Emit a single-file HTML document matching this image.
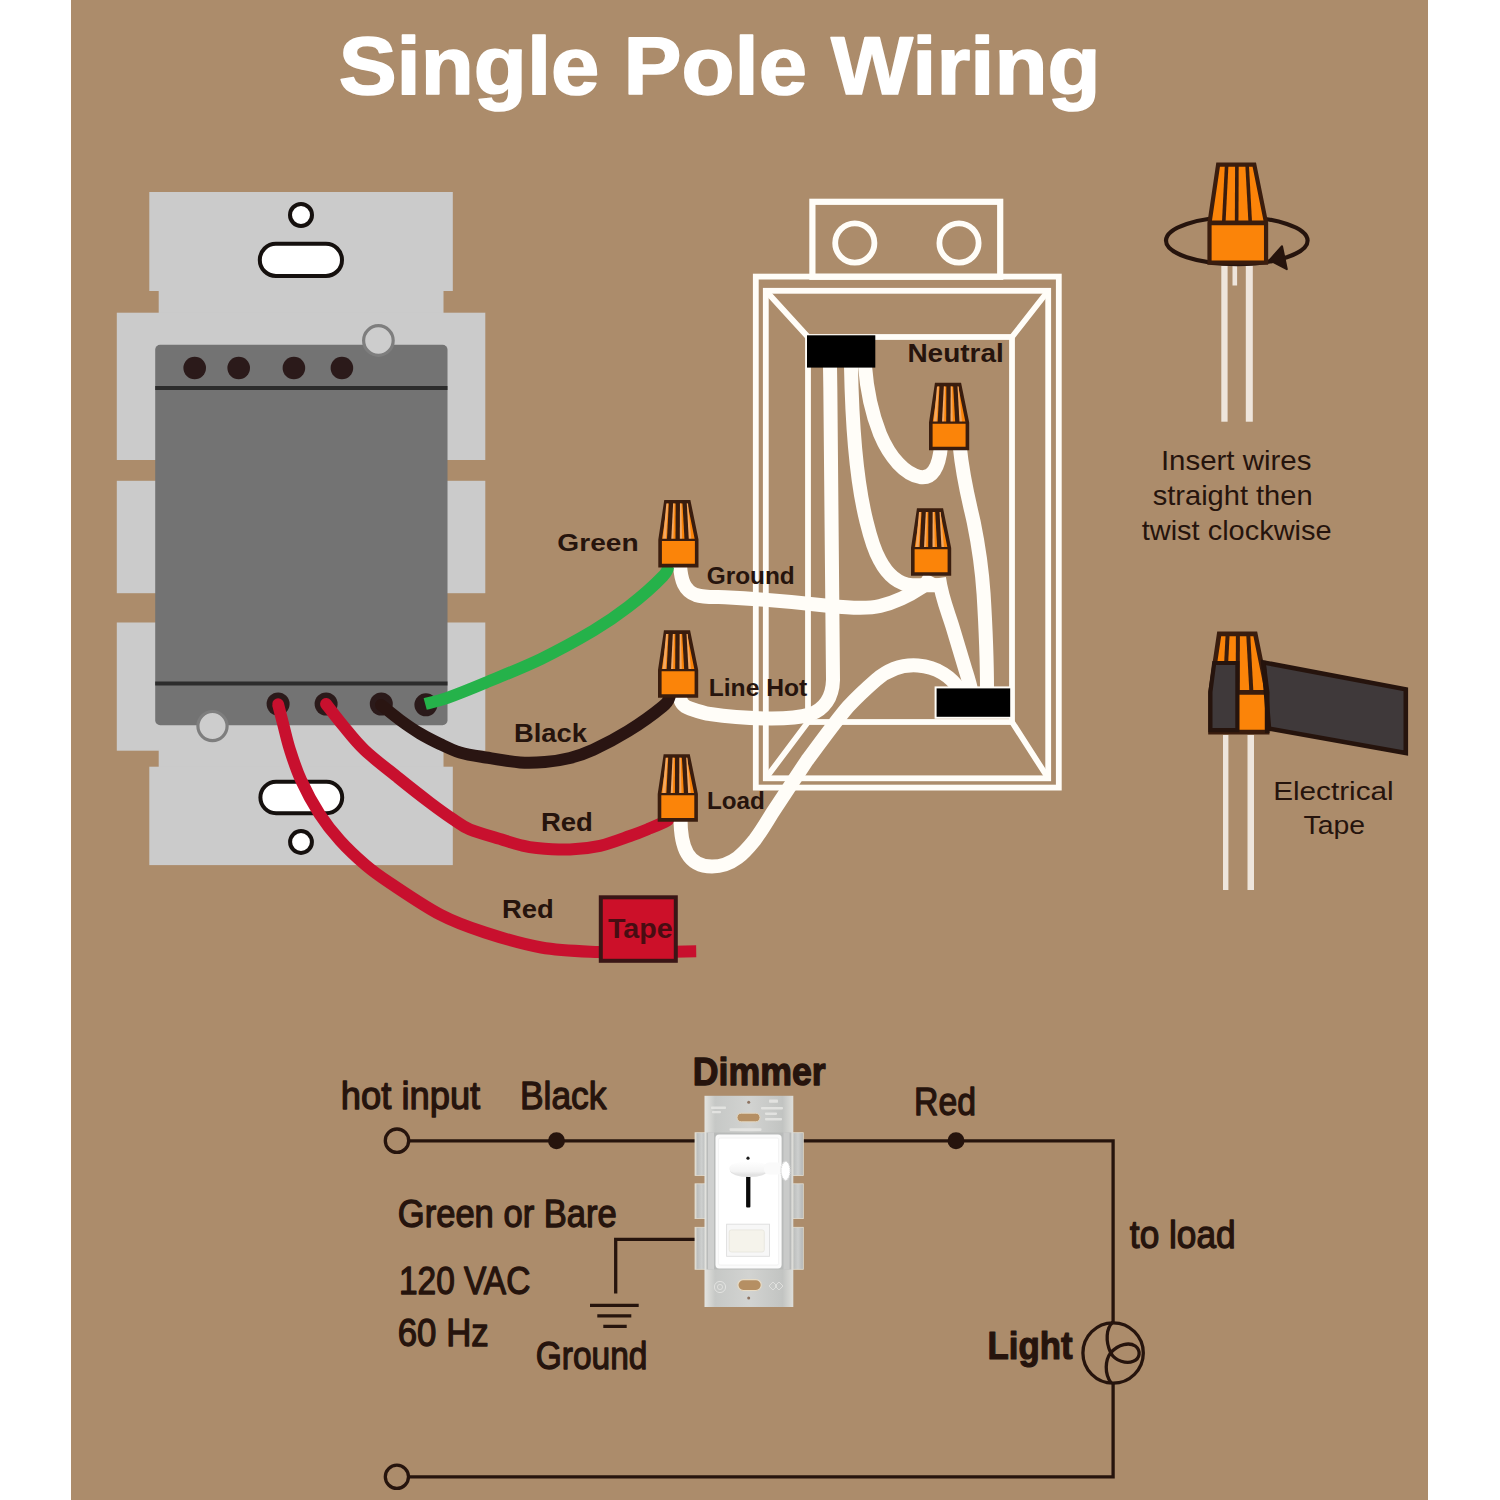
<!DOCTYPE html>
<html lang="en">
<head>
<meta charset="utf-8">
<title>Single Pole Wiring</title>
<style>
html,body{margin:0;padding:0;background:#fff;}
body{width:1500px;height:1500px;overflow:hidden;}
svg{display:block;}
svg text{font-family:"Liberation Sans",sans-serif;}
</style>
</head>
<body>
<svg width="1500" height="1500" viewBox="0 0 1500 1500">
<rect x="71" y="0" width="1357" height="1500" fill="#AC8C6B"/>
<g fill="#CBCBCB">
<rect x="149.3" y="192" width="303.5" height="99"/>
<rect x="158.7" y="290" width="284.8" height="24"/>
<rect x="116.8" y="312.7" width="368.5" height="147.3"/>
<rect x="116.8" y="480.8" width="368.5" height="112.4"/>
<rect x="116.8" y="622.5" width="368.5" height="128.2"/>
<rect x="158.7" y="749" width="284.8" height="19"/>
<rect x="149.3" y="766.7" width="303.5" height="98.4"/>
</g>
<rect x="155.2" y="344.8" width="292.3" height="380.5" rx="5" fill="#737373"/>
<path d="M155.2,388 H447.5 M155.2,683.5 H447.5" stroke="#2c2c2c" stroke-width="4.2"/>
<circle cx="194.7" cy="368" r="11.3" fill="#2B1A1A"/>
<circle cx="238.7" cy="368" r="11.3" fill="#2B1A1A"/>
<circle cx="293.9" cy="368" r="11.3" fill="#2B1A1A"/>
<circle cx="341.9" cy="368" r="11.3" fill="#2B1A1A"/>
<circle cx="278.1" cy="704" r="11.5" fill="#2B1A1A"/>
<circle cx="326.1" cy="704" r="11.5" fill="#2B1A1A"/>
<circle cx="381.3" cy="704" r="11.5" fill="#2B1A1A"/>
<circle cx="425.9" cy="704.8" r="11.5" fill="#2B1A1A"/>
<circle cx="378.4" cy="340.5" r="14.8" fill="#CDCDCD" stroke="#7E7E7E" stroke-width="3.2"/>
<circle cx="212.5" cy="726.1" r="14.6" fill="#CDCDCD" stroke="#7E7E7E" stroke-width="3.2"/>
<g fill="#fff" stroke="#15100E" stroke-width="4">
<circle cx="301" cy="215" r="11"/>
<rect x="259.8" y="243.8" width="82.2" height="32.2" rx="16.1"/>
<rect x="260.4" y="781.8" width="81.8" height="31.4" rx="15.7"/>
<circle cx="301" cy="842" r="10.9"/>
</g>
<g fill="none" stroke="#FFFDF8" stroke-width="5.8">
<rect x="812.4" y="201.8" width="187.8" height="75" stroke-width="6.2"/>
<circle cx="854.8" cy="243" r="19.6"/><circle cx="959" cy="243" r="19.6"/>
<rect x="755.8" y="276.6" width="303" height="511"/>
<rect x="765.8" y="290.8" width="282.4" height="487.5"/>
<rect x="808" y="337" width="204" height="385"/>
<path d="M765.8,290.8 L808,337 M1048.2,290.8 L1012,337 M765.8,778.3 L808,722 M1048.2,778.3 L1012,722"/>
</g>
<g fill="none" stroke="#FFFDF8" stroke-width="14" stroke-linecap="butt" stroke-linejoin="round">
<path d="M680,565 C681,580 684,590.5 696,595 C705,598 715,596.8 725,597.2 C760,599 800,602.5 830,606 C850,608 870,608.5 880,606 C895,602.5 910,595 922,587 C926,584 929,580 931,576"/>
<path d="M851,366 C852,420 856,480 866.6,522 C871,540 874,550 879.7,560 C887,574 898,584 912,585.3 L943,585.3"/>
<path d="M865,366 C867,392 872,414 880,434 C890,458 905,474 920,477 C932,479 939,468 941,446"/>
<path d="M679.5,695 C680,703 684,706.5 690,708.5 C700,712 705,713.5 710,714 C730,717 750,718.3 770,718.5 C790,718.6 800,717.5 810,714.5 C824,709.5 832.5,698 833,680 C833.5,640 832,500 830,366"/>
<path d="M680.5,818 C680.5,848 688,866.5 712,866.5 C733,866.5 745,852 754.7,840 C762,830 768,820 772,813.3 L807.3,760 C820,743 835,722 848,706.7 C860,694 868,687 876,680 C890,668 905,664.5 918,665.5 C938,667 952,678 960,690"/>
<path d="M959.7,446 C963,480 970,505 973.7,522 C979,548 982,570 983.6,594 C985.5,625 987,660 987,690"/>
<path d="M939,578 C941.5,597 948,612 952.3,626 C958,645 962,658 965.5,670 C968,678 970,684 971,690"/>
</g>
<rect x="807" y="335.3" width="68.3" height="32.3" fill="#000"/>
<rect x="935.6" y="687.4" width="75.6" height="30.4" fill="#000" stroke="#FFFDF8" stroke-width="2"/>
<g fill="none" stroke-width="12" stroke-linecap="butt" stroke-linejoin="round">
<path d="M425.2,704.0 C428.9,703.0 437.3,701.3 447.4,697.8 C457.4,694.2 469.9,689.2 485.5,682.7 C501.1,676.2 523.3,667.5 541.3,658.8 C559.3,650.1 578.8,639.3 593.3,630.7 C607.8,622.1 616.4,616.1 628.0,607.1 C639.6,598.1 656.0,583.5 662.7,576.5 C669.5,569.5 667.5,566.9 668.5,565.0" stroke="#25B24A"/>
<path d="M381.0,705.0 C384.2,707.5 393.5,715.2 400.0,720.0 C406.5,724.8 413.3,729.5 420.0,733.5 C426.7,737.5 433.3,740.8 440.0,744.0 C446.7,747.2 452.4,750.2 460.0,752.5 C467.6,754.8 475.9,755.9 485.9,757.5 C495.9,759.1 510.1,761.6 520.0,762.4 C529.9,763.1 536.7,762.7 545.0,762.0 C553.3,761.3 562.0,760.0 570.0,758.0 C578.0,756.0 583.6,754.3 593.3,749.8 C603.0,745.3 616.4,738.4 628.0,731.2 C639.6,724.0 655.8,712.2 662.7,706.5 C669.6,700.8 668.5,698.6 669.6,697.0" stroke="#2A1512" stroke-linecap="round"/>
<path d="M326.1,704.0 C328.9,707.6 336.6,717.8 343.0,725.5 C349.4,733.2 355.2,741.2 364.5,750.0 C373.8,758.8 387.6,769.2 398.5,778.0 C409.4,786.8 421.0,795.9 430.0,802.7 C439.0,809.5 446.0,814.5 452.7,819.0 C459.4,823.5 461.6,826.0 470.0,829.5 C478.4,833.0 495.0,837.4 503.3,840.0 C511.6,842.6 514.4,843.7 520.0,845.0 C525.6,846.3 528.4,847.2 536.7,848.0 C545.0,848.8 559.5,849.9 570.0,849.5 C580.5,849.1 590.0,848.0 600.0,845.8 C610.0,843.5 621.7,838.9 630.0,836.0 C638.3,833.1 644.3,830.6 650.0,828.3 C655.7,826.0 661.0,823.7 664.0,822.3 C667.0,820.9 667.3,820.4 668.0,820.0" stroke="#C8102E" stroke-linecap="round"/>
<path d="M278.0,704.0 C278.9,707.6 281.5,717.8 283.5,725.5 C285.5,733.2 287.1,740.9 290.0,750.0 C292.9,759.1 296.1,769.3 301.0,780.0 C305.9,790.7 313.0,803.9 319.5,814.0 C326.0,824.1 332.3,832.0 340.0,840.5 C347.7,849.0 357.2,857.9 365.5,865.0 C373.8,872.1 377.6,874.8 390.0,883.0 C402.4,891.2 424.2,906.2 440.0,914.5 C455.8,922.8 468.1,927.0 485.0,932.5 C501.9,938.0 522.5,944.2 541.3,947.5 C560.1,950.8 579.9,951.2 598.0,952.0 C616.1,952.8 633.6,952.1 650.0,952.0 C666.4,951.9 688.5,951.4 696.2,951.3" stroke="#C8102E"/>
</g>
<circle cx="278.1" cy="704" r="5.8" fill="#C8102E"/>
<rect x="600.8" y="897.3" width="75" height="63.5" fill="#CC1029" stroke="#3A1616" stroke-width="4"/>
<g transform="translate(658.30,499.90) scale(1.0000)">
<path d="M7.50,1.80 L30.60,1.80 L38.40,39.9 L38.40,65.70 L1.80,65.70 L1.80,39.9 Z" fill="#FB8409" stroke="#3A1D0E" stroke-width="3.60" stroke-linejoin="miter"/>
<path d="M8.0,3.6 L9.9,3.6 L7.6,39.9 L4.7,39.9 Z" fill="#F3A862"/>
<path d="M14.299999999999999,3.6 L16.2,3.6 L15.1,39.9 L12.2,39.9 Z" fill="#F3A862"/>
<path d="M21.2,3.6 L23.1,3.6 L23.8,39.9 L20.9,39.9 Z" fill="#F3A862"/>
<path d="M27.8,3.6 L29.700000000000003,3.6 L33.1,39.9 L30.2,39.9 Z" fill="#F3A862"/>
<path d="M12.75,1.80 L10.8,39.9" stroke="#3A1D0E" stroke-width="4.30" fill="none"/>
<path d="M19.5,1.80 L19.35,39.9" stroke="#3A1D0E" stroke-width="4.30" fill="none"/>
<path d="M26.25,1.80 L28.35,39.9" stroke="#3A1D0E" stroke-width="4.30" fill="none"/>
<path d="M1.80,39.9 L38.40,39.9" stroke="#3A1D0E" stroke-width="2.16" fill="none"/>
</g>
<g transform="translate(658.00,630.30) scale(1.0000)">
<path d="M7.50,1.80 L30.60,1.80 L38.40,39.9 L38.40,65.70 L1.80,65.70 L1.80,39.9 Z" fill="#FB8409" stroke="#3A1D0E" stroke-width="3.60" stroke-linejoin="miter"/>
<path d="M8.0,3.6 L9.9,3.6 L7.6,39.9 L4.7,39.9 Z" fill="#F3A862"/>
<path d="M14.299999999999999,3.6 L16.2,3.6 L15.1,39.9 L12.2,39.9 Z" fill="#F3A862"/>
<path d="M21.2,3.6 L23.1,3.6 L23.8,39.9 L20.9,39.9 Z" fill="#F3A862"/>
<path d="M27.8,3.6 L29.700000000000003,3.6 L33.1,39.9 L30.2,39.9 Z" fill="#F3A862"/>
<path d="M12.75,1.80 L10.8,39.9" stroke="#3A1D0E" stroke-width="4.30" fill="none"/>
<path d="M19.5,1.80 L19.35,39.9" stroke="#3A1D0E" stroke-width="4.30" fill="none"/>
<path d="M26.25,1.80 L28.35,39.9" stroke="#3A1D0E" stroke-width="4.30" fill="none"/>
<path d="M1.80,39.9 L38.40,39.9" stroke="#3A1D0E" stroke-width="2.16" fill="none"/>
</g>
<g transform="translate(657.70,754.20) scale(1.0000)">
<path d="M7.50,1.80 L30.60,1.80 L38.40,39.9 L38.40,65.70 L1.80,65.70 L1.80,39.9 Z" fill="#FB8409" stroke="#3A1D0E" stroke-width="3.60" stroke-linejoin="miter"/>
<path d="M8.0,3.6 L9.9,3.6 L7.6,39.9 L4.7,39.9 Z" fill="#F3A862"/>
<path d="M14.299999999999999,3.6 L16.2,3.6 L15.1,39.9 L12.2,39.9 Z" fill="#F3A862"/>
<path d="M21.2,3.6 L23.1,3.6 L23.8,39.9 L20.9,39.9 Z" fill="#F3A862"/>
<path d="M27.8,3.6 L29.700000000000003,3.6 L33.1,39.9 L30.2,39.9 Z" fill="#F3A862"/>
<path d="M12.75,1.80 L10.8,39.9" stroke="#3A1D0E" stroke-width="4.30" fill="none"/>
<path d="M19.5,1.80 L19.35,39.9" stroke="#3A1D0E" stroke-width="4.30" fill="none"/>
<path d="M26.25,1.80 L28.35,39.9" stroke="#3A1D0E" stroke-width="4.30" fill="none"/>
<path d="M1.80,39.9 L38.40,39.9" stroke="#3A1D0E" stroke-width="2.16" fill="none"/>
</g>
<g transform="translate(929.00,382.80) scale(1.0000)">
<path d="M7.50,1.80 L30.60,1.80 L38.40,39.9 L38.40,65.70 L1.80,65.70 L1.80,39.9 Z" fill="#FB8409" stroke="#3A1D0E" stroke-width="3.60" stroke-linejoin="miter"/>
<path d="M8.0,3.6 L9.9,3.6 L7.6,39.9 L4.7,39.9 Z" fill="#F3A862"/>
<path d="M14.299999999999999,3.6 L16.2,3.6 L15.1,39.9 L12.2,39.9 Z" fill="#F3A862"/>
<path d="M21.2,3.6 L23.1,3.6 L23.8,39.9 L20.9,39.9 Z" fill="#F3A862"/>
<path d="M27.8,3.6 L29.700000000000003,3.6 L33.1,39.9 L30.2,39.9 Z" fill="#F3A862"/>
<path d="M12.75,1.80 L10.8,39.9" stroke="#3A1D0E" stroke-width="4.30" fill="none"/>
<path d="M19.5,1.80 L19.35,39.9" stroke="#3A1D0E" stroke-width="4.30" fill="none"/>
<path d="M26.25,1.80 L28.35,39.9" stroke="#3A1D0E" stroke-width="4.30" fill="none"/>
<path d="M1.80,39.9 L38.40,39.9" stroke="#3A1D0E" stroke-width="2.16" fill="none"/>
</g>
<g transform="translate(911.00,508.30) scale(1.0000)">
<path d="M7.50,1.80 L30.60,1.80 L38.40,39.9 L38.40,65.70 L1.80,65.70 L1.80,39.9 Z" fill="#FB8409" stroke="#3A1D0E" stroke-width="3.60" stroke-linejoin="miter"/>
<path d="M8.0,3.6 L9.9,3.6 L7.6,39.9 L4.7,39.9 Z" fill="#F3A862"/>
<path d="M14.299999999999999,3.6 L16.2,3.6 L15.1,39.9 L12.2,39.9 Z" fill="#F3A862"/>
<path d="M21.2,3.6 L23.1,3.6 L23.8,39.9 L20.9,39.9 Z" fill="#F3A862"/>
<path d="M27.8,3.6 L29.700000000000003,3.6 L33.1,39.9 L30.2,39.9 Z" fill="#F3A862"/>
<path d="M12.75,1.80 L10.8,39.9" stroke="#3A1D0E" stroke-width="4.30" fill="none"/>
<path d="M19.5,1.80 L19.35,39.9" stroke="#3A1D0E" stroke-width="4.30" fill="none"/>
<path d="M26.25,1.80 L28.35,39.9" stroke="#3A1D0E" stroke-width="4.30" fill="none"/>
<path d="M1.80,39.9 L38.40,39.9" stroke="#3A1D0E" stroke-width="2.16" fill="none"/>
</g>
<g fill="#EEE5DC">
<rect x="1221.3" y="266" width="6.3" height="155.7"/><rect x="1245.8" y="266" width="7" height="155.7"/><rect x="1232.5" y="266" width="4.6" height="19.5"/>
<rect x="1223" y="735" width="5.4" height="155"/><rect x="1247.5" y="735" width="6.5" height="155"/>
</g>
<ellipse cx="1236.8" cy="240.6" rx="70.8" ry="23.6" fill="none" stroke="#26140D" stroke-width="4.2"/>
<g transform="translate(1207.40,162.60) scale(1.5120)">
<path d="M7.09,1.39 L31.01,1.39 L38.81,39.9 L38.81,66.11 L1.39,66.11 L1.39,39.9 Z" fill="#FB8409" stroke="#3A1D0E" stroke-width="2.78" stroke-linejoin="miter"/>
<path d="M12.75,1.39 L10.8,39.9" stroke="#3A1D0E" stroke-width="2.38" fill="none"/>
<path d="M19.5,1.39 L19.35,39.9" stroke="#3A1D0E" stroke-width="2.38" fill="none"/>
<path d="M26.25,1.39 L28.35,39.9" stroke="#3A1D0E" stroke-width="2.38" fill="none"/>
<path d="M1.39,39.9 L38.81,39.9" stroke="#3A1D0E" stroke-width="3.06" fill="none"/>
</g>
<path d="M1269.5,260.2 L1282,246.2 L1286.8,269.2 Z" fill="#26140D" stroke="#26140D" stroke-width="2" stroke-linejoin="round"/>
<g transform="translate(1208.20,631.60) scale(1.5240)">
<path d="M7.21,1.51 L30.89,1.51 L38.69,39.9 L38.69,65.99 L1.51,65.99 L1.51,39.9 Z" fill="#FB8409" stroke="#3A1D0E" stroke-width="3.02" stroke-linejoin="miter"/>
<path d="M12.75,1.51 L10.8,39.9" stroke="#3A1D0E" stroke-width="2.62" fill="none"/>
<path d="M19.5,1.51 L19.35,39.9" stroke="#3A1D0E" stroke-width="2.62" fill="none"/>
<path d="M26.25,1.51 L28.35,39.9" stroke="#3A1D0E" stroke-width="2.62" fill="none"/>
<path d="M1.51,39.9 L38.69,39.9" stroke="#3A1D0E" stroke-width="3.02" fill="none"/>
</g>
<path d="M1263.5,662.4 L1405.8,689.3 L1405.8,753 L1269,728.6 Z" fill="#3F393A" stroke="#26140D" stroke-width="4.6" stroke-linejoin="miter"/>
<path d="M1263.2,661 L1267.2,692.4 L1267.2,733" fill="none" stroke="#26140D" stroke-width="4.6"/>
<path d="M1214.2,663 L1237.4,663 L1237.4,730.2 L1210.4,730.2 L1210.4,692 Z" fill="#3F393A" stroke="#26140D" stroke-width="4.2" stroke-linejoin="miter"/>
<g fill="none" stroke="#26140D" stroke-width="3.3">
<path d="M409,1140.8 H695 M803,1140.8 H1113.1 V1322 M1113.1,1383.6 V1476.8 H409"/>
<circle cx="397" cy="1140.7" r="11.7"/><circle cx="396.9" cy="1476.8" r="11.6"/>
<path d="M696,1239.4 H615.7 V1293.5"/>
<path d="M590,1305.3 H638.7 M597.3,1315.8 H631.3 M603.3,1326.3 H626.7"/>
<circle cx="1113.1" cy="1353" r="30.2"/>
<path d="M1113.1,1322 C1106,1328 1105.3,1341.3 1110.7,1352.7 C1115.3,1361.3 1126.7,1364 1133.3,1361.3 C1140,1358.7 1141.3,1350.7 1135.3,1346 C1129.3,1342 1118.7,1344 1110.7,1352.7 C1105.3,1360 1104,1373.3 1111.3,1383.3"/>
</g>
<circle cx="556.5" cy="1140.8" r="8.5" fill="#26140D"/><circle cx="956" cy="1140.8" r="8.5" fill="#26140D"/>
<defs>
<linearGradient id="mt" x1="0" y1="0" x2="1" y2="0"><stop offset="0" stop-color="#E4E4E0"/><stop offset="0.12" stop-color="#C6C8C6"/><stop offset="0.5" stop-color="#D2D3D1"/><stop offset="0.88" stop-color="#C2C4C2"/><stop offset="1" stop-color="#DEDEDA"/></linearGradient>
<linearGradient id="ear" x1="0" y1="0" x2="1" y2="0"><stop offset="0" stop-color="#E6E2D8"/><stop offset="0.2" stop-color="#BDBFBE"/><stop offset="0.55" stop-color="#CDCFCE"/><stop offset="1" stop-color="#B4B6B5"/></linearGradient>
<linearGradient id="knob" x1="0" y1="0" x2="0" y2="1"><stop offset="0" stop-color="#FFFFFF"/><stop offset="0.7" stop-color="#F4F4F4"/><stop offset="1" stop-color="#DEDEDE"/></linearGradient>
</defs>
<g>
<rect x="695" y="1132.7" width="12" height="42.9" fill="url(#ear)" stroke="#E2DDD0" stroke-width="0.8"/>
<rect x="791.5" y="1132.7" width="11.8" height="42.9" fill="url(#ear)" stroke="#E2DDD0" stroke-width="0.8"/>
<rect x="695" y="1183.8" width="12" height="34.8" fill="url(#ear)" stroke="#E2DDD0" stroke-width="0.8"/>
<rect x="791.5" y="1183.8" width="11.8" height="34.8" fill="url(#ear)" stroke="#E2DDD0" stroke-width="0.8"/>
<rect x="695" y="1227.3" width="12" height="42.0" fill="url(#ear)" stroke="#E2DDD0" stroke-width="0.8"/>
<rect x="791.5" y="1227.3" width="11.8" height="42.0" fill="url(#ear)" stroke="#E2DDD0" stroke-width="0.8"/>
<rect x="704.5" y="1095.8" width="88.8" height="211.2" fill="url(#mt)"/>
<rect x="706.5" y="1132.5" width="84.8" height="137" fill="#B9BBBA"/>
<rect x="708" y="1132.5" width="6" height="137" fill="#CFD0CF"/><rect x="783.5" y="1132.5" width="6" height="137" fill="#C9CAC9"/>
<g fill="#E9E9E6">
<rect x="769" y="1099.5" width="9" height="3.2" rx="0.8" opacity="0.8"/>
<rect x="711" y="1106.5" width="15" height="2.6" rx="0.8" opacity="0.8"/>
<rect x="712" y="1111" width="9" height="2.2" rx="0.8" opacity="0.8"/>
<rect x="761" y="1107" width="22" height="2.4" rx="0.8" opacity="0.8"/>
<rect x="765" y="1112.5" width="12" height="2.4" rx="0.8" opacity="0.8"/>
<rect x="765" y="1118" width="17" height="2.4" rx="0.8" opacity="0.8"/>
<rect x="729.5" y="1128.3" width="32" height="2.6" rx="0.8" opacity="0.8"/>
</g>
<circle cx="720" cy="1287" r="5.6" fill="none" stroke="#E4E4E2" stroke-width="0.9"/><circle cx="720" cy="1287" r="2.6" fill="none" stroke="#E4E4E2" stroke-width="0.8"/>
<path d="M769,1286 l4,-4 l4,4 l-4,4 z M775,1286 l4,-4 l4,4 l-4,4 z" fill="none" stroke="#E4E4E2" stroke-width="0.8"/>
<rect x="737" y="1113.2" width="23" height="8.6" rx="4.3" fill="#B58F63" stroke="#E3D6BE" stroke-width="1"/>
<rect x="737.9" y="1279.7" width="23.4" height="10.8" rx="5.4" fill="#B58F63" stroke="#E8DCC6" stroke-width="1.2"/>
<circle cx="748.7" cy="1102.3" r="1.5" fill="#8E7361"/><circle cx="748.7" cy="1297.9" r="1.5" fill="#8E7361"/>
<rect x="715.5" y="1134.4" width="66.1" height="134" rx="3.6" fill="#FBFBFB"/>
<rect x="718.6" y="1138" width="60" height="127" rx="1.5" fill="#FFFFFF" stroke="#EFEFEF" stroke-width="0.8"/>
<rect x="746.1" y="1174" width="4.3" height="33.6" rx="1" fill="#0A0A0A"/>
<circle cx="748" cy="1158.2" r="1.6" fill="#1A1A1A"/>
<ellipse cx="749" cy="1170.6" rx="19" ry="6.4" fill="#E3E3E3"/>
<ellipse cx="748.7" cy="1168.4" rx="19.5" ry="7.2" fill="url(#knob)"/>
<rect x="764" y="1162.6" width="18.5" height="12" rx="5" fill="#FAFAFA"/>
<ellipse cx="785.6" cy="1170.8" rx="4.6" ry="9.6" fill="#FFFFFF" stroke="#CFCFCF" stroke-width="1.5" stroke-dasharray="1 1"/>
<rect x="726.6" y="1224.2" width="42.9" height="32.1" fill="#F7F7F7" stroke="#DDDDDD" stroke-width="0.9"/>
<rect x="729.2" y="1229.9" width="35.1" height="22.1" rx="2.2" fill="#F5F3EB" stroke="#E6E4DC" stroke-width="0.8"/>
</g>
<text x="338.68" y="93.6" font-size="82" font-weight="bold" fill="#fff" textLength="761.91" lengthAdjust="spacingAndGlyphs" stroke="#fff" stroke-width="1.6" stroke-linejoin="round">Single Pole Wiring</text>
<text x="608.00" y="937.5" font-size="27.5" font-weight="bold" fill="#470D12" textLength="64.71" lengthAdjust="spacingAndGlyphs">Tape</text>
<text x="557.35" y="551.0" font-size="24.5" font-weight="bold" fill="#26140D" textLength="81.26" lengthAdjust="spacingAndGlyphs">Green</text>
<text x="706.70" y="584.4" font-size="24.2" font-weight="bold" fill="#26140D" textLength="88.08" lengthAdjust="spacingAndGlyphs">Ground</text>
<text x="708.69" y="696.0" font-size="24.4" font-weight="bold" fill="#26140D" textLength="98.63" lengthAdjust="spacingAndGlyphs">Line Hot</text>
<text x="707.01" y="808.6" font-size="24.4" font-weight="bold" fill="#26140D" textLength="57.89" lengthAdjust="spacingAndGlyphs">Load</text>
<text x="513.93" y="742.0" font-size="25.6" font-weight="bold" fill="#26140D" textLength="73.05" lengthAdjust="spacingAndGlyphs">Black</text>
<text x="540.94" y="830.7" font-size="26" font-weight="bold" fill="#26140D" textLength="51.99" lengthAdjust="spacingAndGlyphs">Red</text>
<text x="501.95" y="917.6" font-size="26" font-weight="bold" fill="#26140D" textLength="51.78" lengthAdjust="spacingAndGlyphs">Red</text>
<text x="907.42" y="362.0" font-size="26" font-weight="bold" fill="#26140D" textLength="96.39" lengthAdjust="spacingAndGlyphs">Neutral</text>
<text x="1160.90" y="469.8" font-size="28" font-weight="normal" fill="#26140D" textLength="150.56" lengthAdjust="spacingAndGlyphs">Insert wires</text>
<text x="1152.70" y="504.5" font-size="28" font-weight="normal" fill="#26140D" textLength="159.93" lengthAdjust="spacingAndGlyphs">straight then</text>
<text x="1141.70" y="540.2" font-size="28" font-weight="normal" fill="#26140D" textLength="189.89" lengthAdjust="spacingAndGlyphs">twist clockwise</text>
<text x="1273.17" y="799.8" font-size="25.5" font-weight="normal" fill="#26140D" textLength="120.47" lengthAdjust="spacingAndGlyphs">Electrical</text>
<text x="1303.50" y="834.3" font-size="25.5" font-weight="normal" fill="#26140D" textLength="61.50" lengthAdjust="spacingAndGlyphs">Tape</text>
<text x="340.79" y="1108.6" font-size="39" font-weight="normal" fill="#26140D" textLength="139.41" lengthAdjust="spacingAndGlyphs" stroke="#26140D" stroke-width="1.3" stroke-linejoin="round">hot input</text>
<text x="519.93" y="1108.6" font-size="39" font-weight="normal" fill="#26140D" textLength="86.57" lengthAdjust="spacingAndGlyphs" stroke="#26140D" stroke-width="1.3" stroke-linejoin="round">Black</text>
<text x="692.84" y="1085.0" font-size="39.5" font-weight="bold" fill="#26140D" textLength="132.84" lengthAdjust="spacingAndGlyphs" stroke="#26140D" stroke-width="1.3" stroke-linejoin="round">Dimmer</text>
<text x="914.05" y="1114.8" font-size="39" font-weight="normal" fill="#26140D" textLength="61.96" lengthAdjust="spacingAndGlyphs" stroke="#26140D" stroke-width="1.3" stroke-linejoin="round">Red</text>
<text x="397.76" y="1227.2" font-size="39" font-weight="normal" fill="#26140D" textLength="219.08" lengthAdjust="spacingAndGlyphs" stroke="#26140D" stroke-width="1.3" stroke-linejoin="round">Green or Bare</text>
<text x="398.93" y="1294.0" font-size="39" font-weight="normal" fill="#26140D" textLength="131.41" lengthAdjust="spacingAndGlyphs" stroke="#26140D" stroke-width="1.3" stroke-linejoin="round">120 VAC</text>
<text x="397.76" y="1346.0" font-size="39" font-weight="normal" fill="#26140D" textLength="90.93" lengthAdjust="spacingAndGlyphs" stroke="#26140D" stroke-width="1.3" stroke-linejoin="round">60 Hz</text>
<text x="535.79" y="1368.6" font-size="39" font-weight="normal" fill="#26140D" textLength="111.61" lengthAdjust="spacingAndGlyphs" stroke="#26140D" stroke-width="1.3" stroke-linejoin="round">Ground</text>
<text x="1129.85" y="1248.0" font-size="39" font-weight="normal" fill="#26140D" textLength="105.83" lengthAdjust="spacingAndGlyphs" stroke="#26140D" stroke-width="1.3" stroke-linejoin="round">to load</text>
<text x="987.62" y="1358.8" font-size="39.2" font-weight="bold" fill="#26140D" textLength="85.02" lengthAdjust="spacingAndGlyphs" stroke="#26140D" stroke-width="1.2" stroke-linejoin="round">Light</text>
</svg>
</body>
</html>
